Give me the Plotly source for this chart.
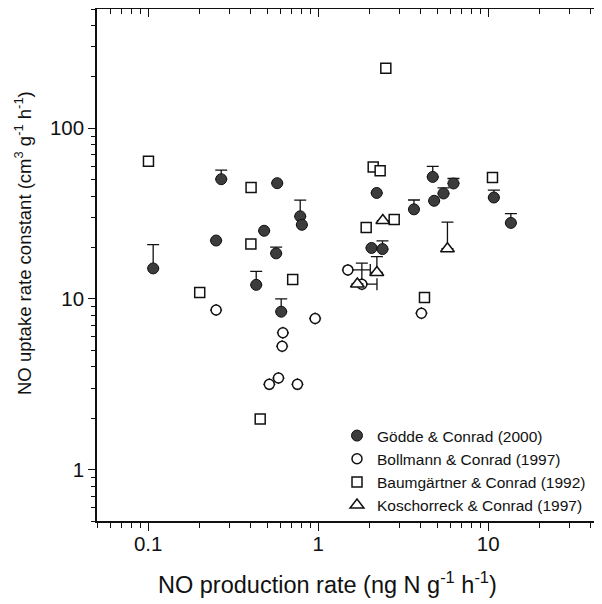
import math
import plotly.graph_objects as go

# ---- data ----
godde_x = [0.107, 0.269, 0.251, 0.574, 0.481, 0.566, 0.432, 0.784, 0.802, 0.606,
           2.21, 4.72, 6.25, 5.46, 4.81, 3.66, 10.8, 13.6, 2.06, 2.39]
godde_y = [15.1, 50.3, 22.0, 47.7, 25.1, 18.5, 12.1, 30.5, 27.2, 8.42,
           41.8, 51.9, 47.5, 41.5, 37.6, 33.5, 39.3, 27.9, 19.9, 19.6]
godde_err = [5.7, 6.5, None, None, None, 1.6, 2.4, 7.4, None, 1.6,
             None, 7.9, 3.3, 3.2, None, 4.5, 4.1, 3.7, None, 2.3]

bollmann_x = [0.251, 0.620, 0.614, 0.584, 0.516, 0.755, 0.960, 4.05, 1.495, 1.807]
bollmann_y = [8.61, 6.34, 5.28, 3.44, 3.16, 3.16, 7.68, 8.25, 14.8, 12.2]
bollmann_xerr = [None, None, None, None, None, None, None, None, 0.53, 0.41]
bollmann_yerr = [None, None, None, None, None, None, None, None, None, 4.0]

baum_x = [0.1004, 0.403, 0.402, 0.708, 0.201, 0.456, 2.50, 2.107, 2.315, 1.916, 2.80, 10.6, 4.22]
baum_y = [64.2, 45.0, 21.0, 13.0, 10.9, 1.98, 225, 59.4, 56.3, 26.2, 29.2, 51.5, 10.2]

kosch_x = [2.40, 5.76, 2.215, 1.70]
kosch_y = [28.8, 19.7, 14.3, 12.25]
kosch_err = [None, 8.5, 3.4, None]

series_names = ["Gödde & Conrad (2000)", "Bollmann & Conrad (1997)",
                "Baumgärtner & Conrad (1992)", "Koschorreck & Conrad (1997)"]

x_tickvals = [0.1, 1, 10]
x_ticktext = ["0.1", "1", "10"]
y_tickvals = [1, 10, 100]
y_ticktext = ["1", "10", "100"]
x_range = [0.05, 50]
y_range = [0.5, 500]

x_title = "NO production rate (ng N g<sup>-1</sup> h<sup>-1</sup>)"
y_title = "NO uptake rate constant (cm<sup>3</sup> g<sup>-1</sup> h<sup>-1</sup>)"

# ---- styling ----
FONT = "Arial, 'Liberation Sans', sans-serif"
INK = "#111111"
minor_vals = [m * 10 ** e for e in range(-2, 4) for m in range(2, 10)]

# plot area in figure pixels (page has an 8px body margin)
L, T, W, H = 89, 1, 510, 512
FIG_W, FIG_H = 602, 604


def px_x(fx):
    return (fx - L) / W


def px_y(fy):
    return (T + H - fy) / H


fig = go.Figure()

err_style = dict(type="data", symmetric=False, color=INK, thickness=1.3, width=6)

fig.add_trace(go.Scatter(
    x=godde_x, y=godde_y, mode="markers", name=series_names[0],
    marker=dict(symbol="circle", size=11, color="#3c3c3c", line=dict(color=INK, width=1)),
    error_y=dict(array=godde_err, arrayminus=[0] * len(godde_y), **err_style),
))
fig.add_trace(go.Scatter(
    x=bollmann_x, y=bollmann_y, mode="markers", name=series_names[1],
    marker=dict(symbol="circle", size=10, color="white", line=dict(color=INK, width=1.5)),
    error_y=dict(array=bollmann_yerr, arrayminus=[0] * len(bollmann_y), **err_style),
    error_x=dict(array=bollmann_xerr, arrayminus=[0] * len(bollmann_x), **err_style),
))
fig.add_trace(go.Scatter(
    x=baum_x, y=baum_y, mode="markers", name=series_names[2],
    marker=dict(symbol="square", size=10, color="white", line=dict(color=INK, width=1.5)),
))
fig.add_trace(go.Scatter(
    x=kosch_x, y=kosch_y, mode="markers", name=series_names[3],
    marker=dict(symbol="triangle-up", size=12, color="white", line=dict(color=INK, width=1.5)),
    error_y=dict(array=kosch_err, arrayminus=[0] * len(kosch_y), **err_style),
))
# empty trace so the mirrored (inside-tick) axes get a subplot
fig.add_trace(go.Scatter(x=[], y=[], xaxis="x2", yaxis="y2", showlegend=False, hoverinfo="skip"))

xr = [math.log10(x_range[0]), math.log10(x_range[1])]
yr = [math.log10(y_range[0]), math.log10(y_range[1])]

common = dict(showgrid=False, zeroline=False, tickcolor=INK, tickwidth=1.3, automargin=False,
              tickfont=dict(family=FONT, size=20.5, color=INK))

fig.update_layout(
    width=FIG_W, height=FIG_H,
    margin=dict(l=L, r=FIG_W - L - W, t=T, b=FIG_H - T - H),
    paper_bgcolor="white", plot_bgcolor="white",
    font=dict(family=FONT, color=INK),
    showlegend=True,
    legend=dict(x=px_x(329), y=px_y(411), xanchor="left", yanchor="top",
                bgcolor="rgba(0,0,0,0)", font=dict(family=FONT, size=15.5, color=INK),
                itemsizing="trace"),
    xaxis=dict(type="log", range=xr, showline=True, linecolor=INK, linewidth=1.6, mirror=True,
               ticks="outside", ticklen=8, tickmode="array", tickvals=x_tickvals, ticktext=x_ticktext,
               minor=dict(ticks="outside", ticklen=5, tickwidth=1.2, tickcolor=INK,
                          tickmode="array", tickvals=minor_vals),
               ticklabelstandoff=-4, **common),
    yaxis=dict(type="log", range=yr, showline=True, linecolor=INK, linewidth=1.6, mirror=True,
               ticks="outside", ticklen=7, tickmode="array", tickvals=y_tickvals, ticktext=y_ticktext,
               minor=dict(ticks="outside", ticklen=4, tickwidth=1.2, tickcolor=INK,
                          tickmode="array", tickvals=minor_vals),
               ticklabelstandoff=0, **common),
    xaxis2=dict(type="log", range=xr, overlaying="x", side="top", anchor="y", showline=False,
                ticks="inside", ticklen=8, tickmode="array", tickvals=x_tickvals, showticklabels=False,
                minor=dict(ticks="inside", ticklen=5, tickwidth=1.2, tickcolor=INK,
                           tickmode="array", tickvals=minor_vals), **common),
    yaxis2=dict(type="log", range=yr, overlaying="y", side="right", anchor="x", showline=False,
                ticks="inside", ticklen=7, tickmode="array", tickvals=y_tickvals, showticklabels=False,
                minor=dict(ticks="inside", ticklen=4, tickwidth=1.2, tickcolor=INK,
                           tickmode="array", tickvals=minor_vals), **common),
    annotations=[
        dict(text=y_title, xref="paper", yref="paper", x=px_x(15), y=px_y(235),
             textangle=-90, showarrow=False, xanchor="center", yanchor="middle",
             font=dict(family=FONT, size=18.5, color=INK)),
        dict(text=x_title, xref="paper", yref="paper", x=px_x(319.5), y=px_y(575),
             showarrow=False, xanchor="center", yanchor="middle",
             font=dict(family=FONT, size=23.5, color=INK)),
    ],
)

fig.write_html("out.html")
